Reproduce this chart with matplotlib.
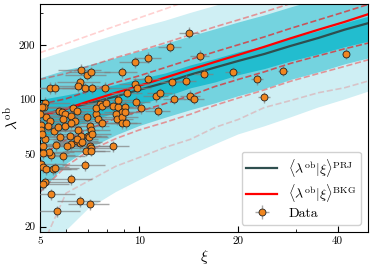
import numpy as np
import matplotlib.pyplot as plt
from matplotlib.lines import Line2D
from matplotlib.ticker import FixedLocator, FixedFormatter, NullFormatter

# computer-modern look
plt.rcParams['font.family'] = 'serif'
plt.rcParams['font.serif'] = ['cmr10']
plt.rcParams['mathtext.fontset'] = 'cm'
plt.rcParams['axes.unicode_minus'] = False

xi_grid = [5, 6, 7, 8.5, 10, 12, 14.3, 17, 20, 24, 28.8, 35, 42, 50]

# mean relations
lam_prj = [82, 89, 95, 104, 113, 124, 137, 150, 163, 178, 197, 218, 242, 264]
lam_bkg = [81, 89, 97.5, 109, 119, 132, 146, 161, 176, 195, 217, 242, 267, 296]

# PRJ bands (1, 2, 3 sigma)
prj_lo1 = [60, 69, 76, 85, 94, 104, 116, 125, 137, 148, 163, 178, 195, 210]
prj_hi1 = [100, 106, 112, 121, 130, 140, 155, 168, 183, 197, 218, 239, 264, 288]
prj_lo2 = [31, 44.6, 54, 64, 72, 80, 88, 96, 105, 115, 129, 142, 157, 170]
prj_hi2 = [132, 146, 155, 170, 185, 203, 224, 245, 267, 292, 323, 357, 395, 431]
prj_lo3 = [8, 19, 25, 31, 36, 42.5, 49.4, 56.7, 64.3, 71.2, 79.7, 90.4, 100, 111]
prj_hi3 = [166, 185, 203, 227, 248, 271, 299, 327, 357, 390, 431, 477, 528, 576]

# BKG percentiles (dashed)
bkg_lo1 = [49, 60, 68.5, 79, 86, 95, 105, 118, 129, 142, 158, 174, 190, 205]
bkg_hi1 = [94, 101, 111, 124, 135, 150, 166, 183, 200, 221, 246, 274, 303, 335]
bkg_lo2 = [31, 43, 52, 61, 68, 75, 83, 93, 102, 113, 126, 139, 152, 166]
bkg_hi2 = [129, 139, 152, 170, 185, 205, 227, 251, 274, 303, 337, 376, 415, 459]
bkg_lo3 = [14.7, 30.6, 35.6, 43, 48, 54.6, 60.4, 70.3, 77.7, 90.4, 98.7, 109, 116, 127]
bkg_hi3 = [181, 203, 224, 254, 281, 315, 353, 390, 426, 471, 525, 584, 646, 714]

# observed clusters
xi_obs = [6.67, 6.95, 7.14, 6.62, 6.53, 5.36, 5.55, 6.85, 7.20, 7.85,
          5.18, 5.14, 5.07, 5.71, 5.83, 6.30, 6.48, 5.96, 5.21, 5.0,
          5.36, 5.87, 6.21, 6.39, 6.95, 7.39, 7.50, 5.04, 5.04, 5.28,
          5.51, 5.67, 5.96, 6.21, 6.53, 7.10, 7.14, 6.67, 7.00, 6.17,
          5.75, 5.18, 5.11, 5.59, 6.21, 6.48, 6.62, 7.10, 7.14, 5.87,
          5.39, 6.90, 7.14, 5.04, 5.11, 5.21, 5.47, 5.55, 6.85, 5.18,
          5.11, 6.21, 5.39, 6.62, 7.10, 5.63, 8.33,
          5.07, 6.48, 6.71, 7.05, 7.20, 6.04, 5.32, 5.11, 7.61, 7.39,
          9.70, 10.67, 8.84, 9.70, 10.6, 9.85, 9.20, 11.25, 11.56, 7.72,
          7.93, 8.33, 8.61, 8.61, 9.08, 8.84, 9.77, 10.14, 11.4, 8.50,
          8.55, 8.90, 9.08, 8.84, 9.14, 7.72,
          14.2, 12.4, 15.3, 12.6, 13.9, 15.7, 12.8, 14.3, 14.7, 19.2,
          22.8, 27.3, 23.9, 42.3]
lam_obs = [146, 137, 141, 125, 119, 116, 116, 115, 115, 116,
           96, 90.4, 91.5, 86, 85, 89.3, 86, 82.8, 79.7, 82.8,
           75.8, 77.7, 80.7, 75.8, 79.7, 82.8, 77.7, 72, 67.7, 71.2,
           66.8, 70.3, 71.2, 73.9, 67.7, 71.2, 67.7, 62.7, 62.7, 62.7,
           61.9, 60.4, 55.3, 56, 56.7, 58.9, 57.4, 55.3, 53.9, 48.8,
           49.4, 52.3, 52.3, 44.1, 42.4, 41.4, 41.4, 41.9, 43.5, 35.1,
           34.2, 36.5, 30.2, 27.6, 26.6, 24.4, 55.3,
           64.3, 60.4, 58.2, 61.9, 64.3, 55.3, 51.3, 50.6, 94, 89.3,
           161, 170, 141, 122, 130, 115, 109, 104, 108, 92.7,
           96, 92.7, 90.4, 100, 91.5, 85, 97.5, 89.3, 87, 82.8,
           77.7, 79.7, 85, 73.9, 73.9, 73.9,
           233, 195, 174, 125, 127, 139, 101, 105, 101, 141,
           129, 144, 103, 179]
xi_err = 1.0        # horizontal bars are ~1 unit of xi
lam_rel_err = 0.07  # vertical bars ~7 per cent

fig = plt.figure(figsize=(3.74, 2.66), dpi=100)
ax = fig.add_axes([40/374, 34/266, 328/374, 228/266])

# PRJ bands
ax.fill_between(xi_grid, prj_lo3, prj_hi3, color='#cfeff4', lw=0, zorder=1)
ax.fill_between(xi_grid, prj_lo2, prj_hi2, color='#74d3df', lw=0, zorder=1)
ax.fill_between(xi_grid, prj_lo1, prj_hi1, color='#22bdcf', lw=0, zorder=1)

# BKG percentiles
for lo, hi, a in [(bkg_lo1, bkg_hi1, 0.6), (bkg_lo2, bkg_hi2, 0.38), (bkg_lo3, bkg_hi3, 0.18)]:
    ax.plot(xi_grid, lo, '--', color='red', alpha=a, lw=1.2, zorder=2)
    ax.plot(xi_grid, hi, '--', color='red', alpha=a, lw=1.2, zorder=2)

ax.plot(xi_grid, lam_prj, color='#2f4f4f', lw=1.6, zorder=3)
ax.plot(xi_grid, lam_bkg, color='red', lw=1.6, zorder=3)

lam_obs = np.array(lam_obs)
data = ax.errorbar(xi_obs, lam_obs, xerr=xi_err, yerr=lam_rel_err*lam_obs, fmt='o',
                   ms=5, mfc='#f0861f', mec='#222222', mew=0.6,
                   ecolor=(0.5, 0.5, 0.5, 0.7), elinewidth=1.0, zorder=4)

ax.set_xscale('log')
ax.set_yscale('log')
ax.set_xlim(5, 49.5)
ax.set_ylim(18.7, 335)

ax.xaxis.set_major_locator(FixedLocator([5, 10, 20, 40]))
ax.xaxis.set_major_formatter(FixedFormatter(['5', '10', '20', '40']))
ax.xaxis.set_minor_locator(FixedLocator([6, 7, 8, 9, 30]))
ax.xaxis.set_minor_formatter(NullFormatter())
ax.yaxis.set_major_locator(FixedLocator([20, 50, 100, 200]))
ax.yaxis.set_major_formatter(FixedFormatter(['20', '50', '100', '200']))
ax.yaxis.set_minor_locator(FixedLocator([300]))
ax.yaxis.set_minor_formatter(NullFormatter())
ax.tick_params(which='both', direction='in', labelsize=8)
ax.tick_params(which='major', length=4)
ax.tick_params(which='minor', length=2.5)

ax.set_xlabel(r'$\xi$', fontsize=11)
ax.set_ylabel(r'$\lambda^{\rm ob}$', fontsize=11)
ax.xaxis.set_label_coords(0.5, -0.068)
ax.yaxis.set_label_coords(-0.062, 0.5)

handles = [Line2D([], [], color='#2f4f4f', lw=1.6),
           Line2D([], [], color='red', lw=1.6),
           data]
labels = [r'$\langle\lambda^{\rm ob}|\xi\rangle^{\rm PRJ}$',
          r'$\langle\lambda^{\rm ob}|\xi\rangle^{\rm BKG}$',
          'Data']
ax.legend(handles, labels, loc='lower right', fontsize=10, framealpha=0.9,
          edgecolor='#cccccc', handlelength=2.2, labelspacing=0.25,
          borderpad=0.35)

fig.savefig('out.png', dpi=100)
